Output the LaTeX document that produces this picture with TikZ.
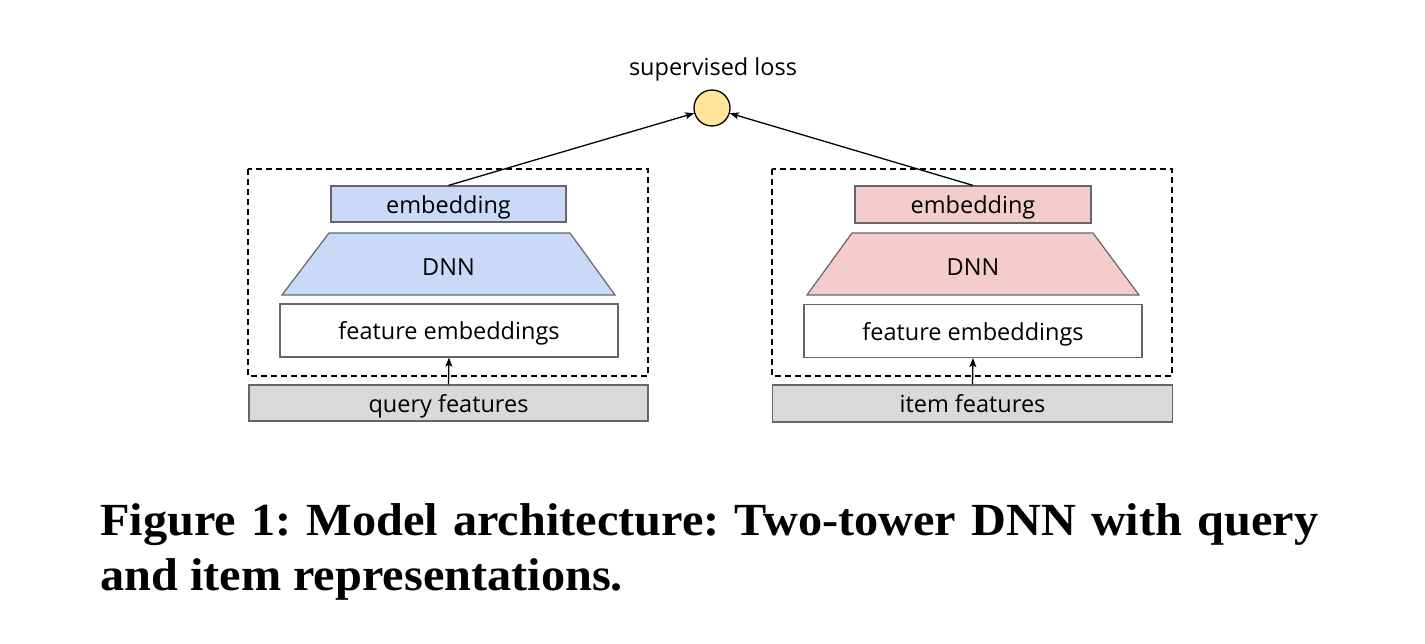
\documentclass[tikz,border=0pt]{standalone}
\usepackage{fontspec}
\setmainfont{Open Sans}
\newfontfamily\capfont{Liberation Serif}[FakeStretch=1.05]
\usetikzlibrary{arrows.meta}
\definecolor{blueF}{HTML}{C9DAF8}
\definecolor{pinkF}{HTML}{F4CCCC}
\definecolor{grayF}{HTML}{D9D9D9}
\definecolor{yellowF}{HTML}{FFE599}
\definecolor{edgeG}{HTML}{666666}
\tikzset{
  box/.style={draw=edgeG, line width=1.2pt, inner sep=0pt, text height=19pt, text depth=1pt, font=\fontsize{23.5}{26}\selectfont},
  tower/.style={draw=black, line width=1.3pt, dash pattern=on 6pt off 4pt},
  trap/.style={draw=edgeG, line width=1.2pt},
  lbl/.style={inner sep=0pt, font=\fontsize{23.5}{26}\selectfont},
  conn/.style={line width=1.3pt, -{Stealth[length=9pt,width=7pt,inset=2pt]}},
  captxt/.style={inner sep=0pt, font=\capfont\bfseries\fontsize{46}{55}\selectfont}
}
\begin{document}
\frenchspacing
\begin{tikzpicture}[x=1pt,y=-1pt]
\useasboundingbox (0,0) rectangle (1425,643);
% loss
\node[lbl, anchor=base] (losslbl) at (713,75) {supervised loss};
\node[circle, draw=black, line width=1.3pt, fill=yellowF, minimum size=36pt, inner sep=0pt] (loss) at (712,108) {};
% left tower
\draw[tower] (248,169) rectangle (648,376);
\node[box, fill=blueF, minimum width=235pt, minimum height=36pt] (qemb) at (448.5,204) {embedding};
\draw[trap, fill=blueF] (329,233) -- (570,233) -- (615,295) -- (282,295) -- cycle;
\node[lbl, anchor=base] (qdnn) at (448.5,275) {DNN};
\node[box, fill=white, minimum width=338pt, minimum height=53pt] (qfe) at (449,330.5) {feature embeddings};
\node[box, fill=grayF, minimum width=399pt, minimum height=36pt] (qf) at (448.5,403) {query features};
% right tower
\draw[tower] (772,169) rectangle (1172,376);
\node[box, fill=pinkF, minimum width=236pt, minimum height=37pt] (iemb) at (973,204.5) {embedding};
\draw[trap, fill=pinkF] (852,233) -- (1093,233) -- (1139,295) -- (807,295) -- cycle;
\node[lbl, anchor=base] (idnn) at (973,275) {DNN};
\node[box, fill=white, minimum width=338pt, minimum height=53pt] (ife) at (973,331) {feature embeddings};
\node[box, fill=grayF, minimum width=400pt, minimum height=37pt] (if) at (972.5,403.5) {item features};
% connectors
\draw[conn] (qemb.north) -- (loss);
\draw[conn] (iemb.north) -- (loss);
\draw[conn] (qf.north) -- (qfe.south);
\draw[conn] (if.north) -- (ife.south);
% caption
\node[captxt, anchor=base west] (cap1) at (100,535) {\makebox[1218pt][s]{Figure 1: Model architecture: Two-tower DNN with query}};
\node[captxt, anchor=base west] (cap2) at (100,590) {and item representations.};
\end{tikzpicture}
\end{document}
